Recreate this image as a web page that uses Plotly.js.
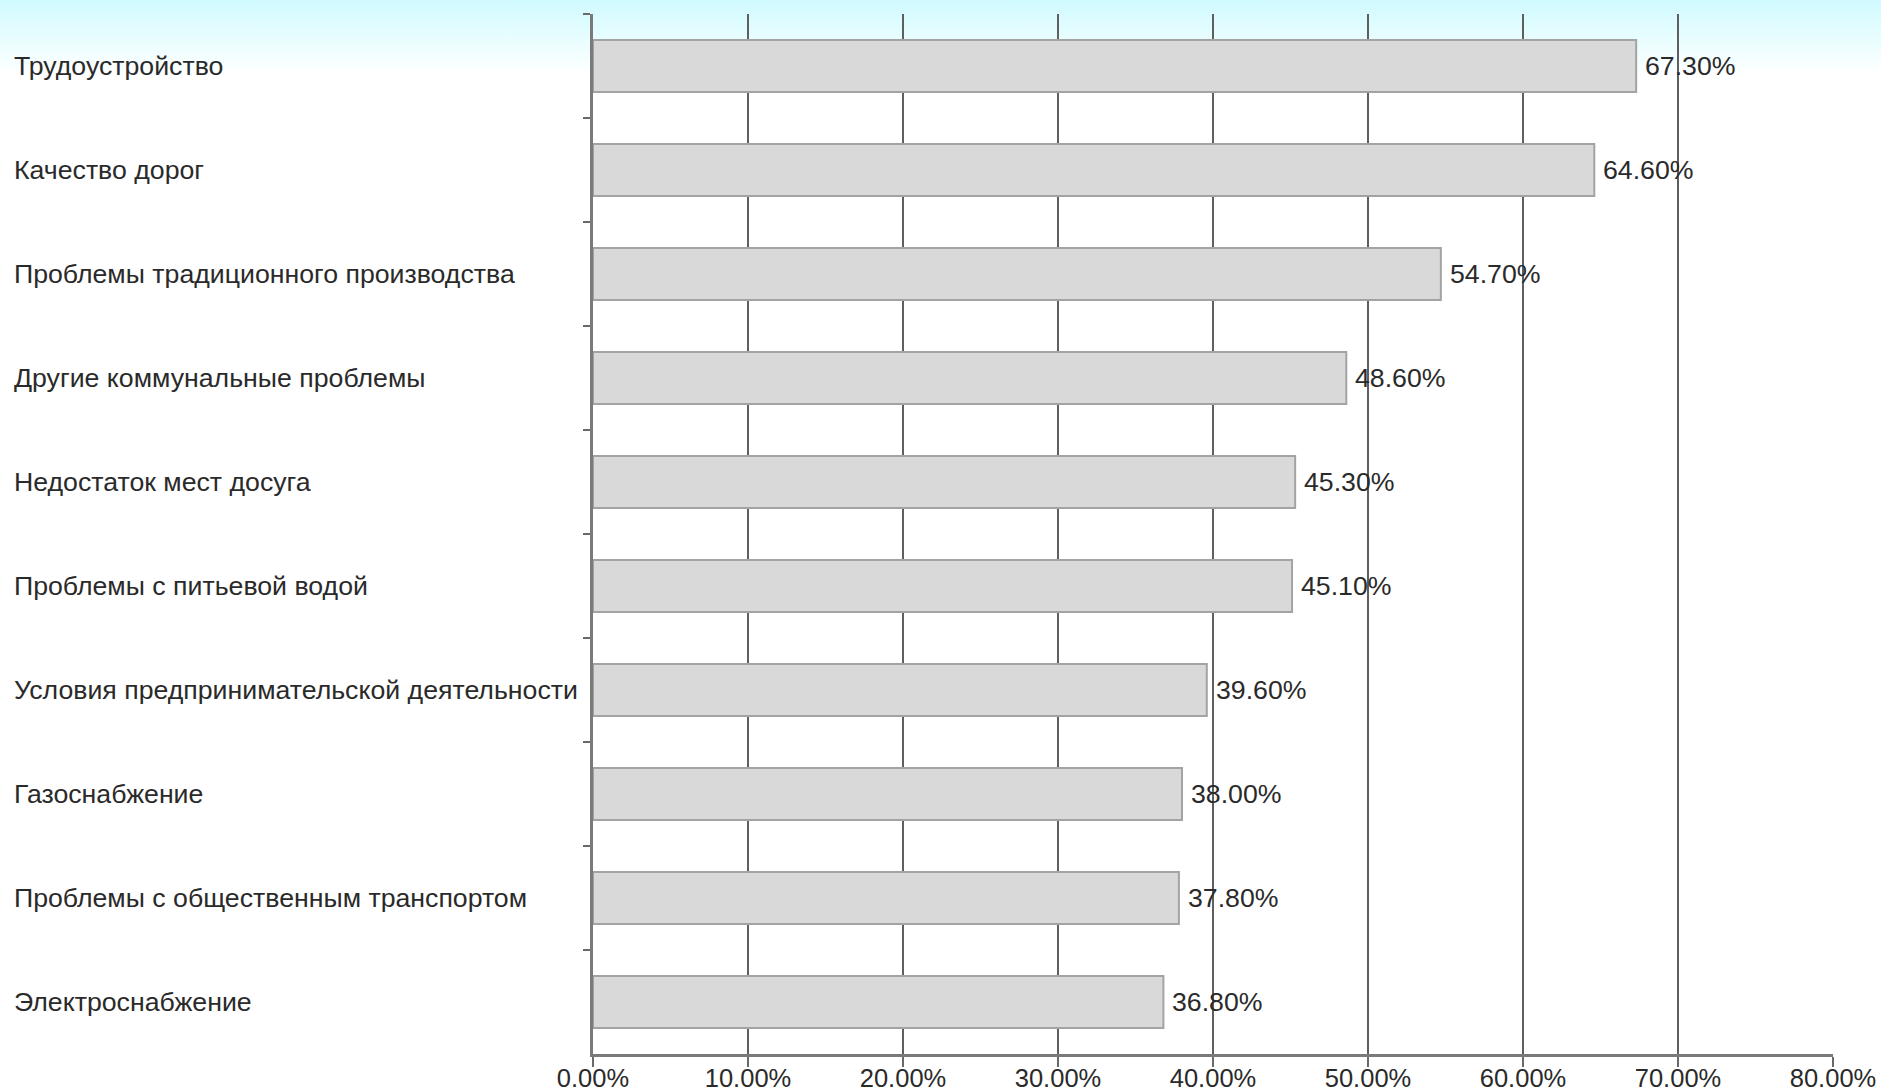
<!DOCTYPE html>
<html>
<head>
<meta charset="utf-8">
<script src="https://cdn.plot.ly/plotly-3.0.1.min.js"></script>
<style>
  html, body { margin: 0; padding: 0; }
  body {
    width: 1881px; height: 1092px; overflow: hidden;
    background: linear-gradient(to bottom, #cffaff 0px, #e6fdff 35px, #ffffff 75px, #ffffff 100%);
  }
  #chart { width: 1881px; height: 1092px; }
</style>
</head>
<body>
<div id="chart"></div>
<script>
// Data
const categories = [
  "Трудоустройство",
  "Качество дорог",
  "Проблемы традиционного производства",
  "Другие коммунальные проблемы",
  "Недостаток мест досуга",
  "Проблемы с питьевой водой",
  "Условия предпринимательской деятельности",
  "Газоснабжение",
  "Проблемы с общественным транспортом",
  "Электроснабжение"
];
const values = [67.3, 64.6, 54.7, 48.6, 45.3, 45.1, 39.6, 38.0, 37.8, 36.8];
const tickValues = [0, 10, 20, 30, 40, 50, 60, 70, 80];

const FONT = "'Liberation Sans', Arial, sans-serif";
const TEXT_COLOR = "#2a2a2a";
const FS = 26.7;

const W = 1881, H = 1092;
const marginL = 593, marginR = 48, marginT = 14, marginB = 38;
const plotW = W - marginL - marginR;

const trace = {
  type: "bar",
  orientation: "h",
  x: values,
  y: categories,
  marker: { color: "#d9d9d9", line: { color: "#a3a3a3", width: 2 } },
  hoverinfo: "x+y",
  cliponaxis: false
};

const annotations = [];
categories.forEach((c, i) => {
  annotations.push({
    xref: "paper", yref: "y",
    x: (12 - marginL) / plotW, y: c,
    xanchor: "left", yanchor: "middle",
    text: c, showarrow: false,
    font: { family: FONT, size: FS, color: TEXT_COLOR }
  });
  annotations.push({
    xref: "x", yref: "y",
    x: values[i], y: c,
    xanchor: "left", yanchor: "middle",
    xshift: 7,
    text: values[i].toFixed(2) + "%", showarrow: false,
    font: { family: FONT, size: FS, color: TEXT_COLOR }
  });
});

const layout = {
  width: W, height: H,
  margin: { l: marginL, r: marginR, t: marginT, b: marginB, pad: 0 },
  paper_bgcolor: "rgba(0,0,0,0)",
  plot_bgcolor: "rgba(0,0,0,0)",
  showlegend: false,
  bargap: 0.5,
  font: { family: FONT, size: FS, color: TEXT_COLOR },
  xaxis: {
    range: [0, 80],
    tickvals: tickValues,
    ticktext: tickValues.map(v => v.toFixed(2) + "%"),
    showgrid: true, gridcolor: "#5f5f5f", gridwidth: 2,
    zeroline: false,
    showline: true, linecolor: "#7a7a7a", linewidth: 3,
    ticks: "outside", ticklen: 10, tickwidth: 2, tickcolor: "#6a6a6a",
    ticklabelstandoff: -11,
    tickfont: { family: FONT, size: 25.5, color: TEXT_COLOR },
    automargin: false, fixedrange: true
  },
  yaxis: {
    type: "category",
    autorange: "reversed",
    showticklabels: false,
    showgrid: false, zeroline: false,
    showline: true, linecolor: "#7a7a7a", linewidth: 3,
    ticks: "outside", tickson: "boundaries", ticklen: 7, tickwidth: 2, tickcolor: "#6a6a6a",
    automargin: false, fixedrange: true
  },
  annotations: annotations
};

Plotly.newPlot("chart", [trace], layout, { displayModeBar: false, staticPlot: true });
</script>
</body>
</html>
